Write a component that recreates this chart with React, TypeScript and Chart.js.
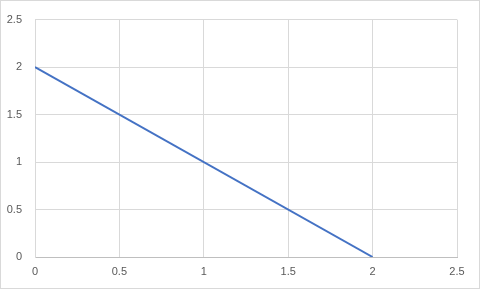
import React, { useEffect, useRef } from "react";
import { Chart, registerables } from "chart.js";

Chart.register(...registerables);

const xValues = [0, 2];
const yValues = [2, 0];
const axisMin = 0;
const axisMax = 2.5;
const axisStep = 0.5;

export default function App() {
  const ref = useRef<HTMLCanvasElement | null>(null);
  useEffect(() => {
    document.body.style.margin = "0";
    const ctx = ref.current;
    if (!ctx) return;
    const points = xValues.map((x, i) => ({ x, y: yValues[i] }));
    const font = { family: "'Liberation Sans', Arial, sans-serif", size: 11 };
    const fmt = (v: any) => String(Number(v));
    const chart = new Chart(ctx, {
      type: "scatter",
      data: {
        datasets: [
          {
            data: points,
            showLine: true,
            borderColor: "#4472C4",
            backgroundColor: "#4472C4",
            borderWidth: 2,
            pointRadius: 0,
            tension: 0,
          },
        ],
      },
      options: {
        animation: false,
        responsive: false,
        layout: { padding: { left: 0, right: 23, top: 15, bottom: 0 } },
        plugins: { legend: { display: false }, tooltip: { enabled: false } },
        scales: {
          x: {
            type: "linear",
            min: axisMin,
            max: axisMax,
            ticks: { stepSize: axisStep, color: "#595959", font, padding: 8, callback: fmt },
            grid: { color: "#d9d9d9", drawTicks: false },
            border: { color: "#bfbfbf" },
            afterFit: (s: any) => {
              s.height = 32;
            },
          },
          y: {
            type: "linear",
            min: axisMin,
            max: axisMax,
            ticks: { stepSize: axisStep, color: "#595959", font, padding: 13, callback: fmt },
            grid: { color: "#d9d9d9", drawTicks: false },
            border: { color: "#d9d9d9" },
            afterFit: (s: any) => {
              s.width = 35;
            },
          },
        },
      },
    });
    return () => chart.destroy();
  }, []);
  return (
    <div
      style={{
        position: "relative",
        width: 480,
        height: 289,
        boxSizing: "border-box",
      }}
    >
      <canvas ref={ref} width={480} height={289} style={{ display: "block" }} />
      <div
        style={{
          position: "absolute",
          left: 0,
          top: 0,
          width: 480,
          height: 289,
          boxSizing: "border-box",
          border: "1px solid #d9d9d9",
          pointerEvents: "none",
        }}
      />
    </div>
  );
}
